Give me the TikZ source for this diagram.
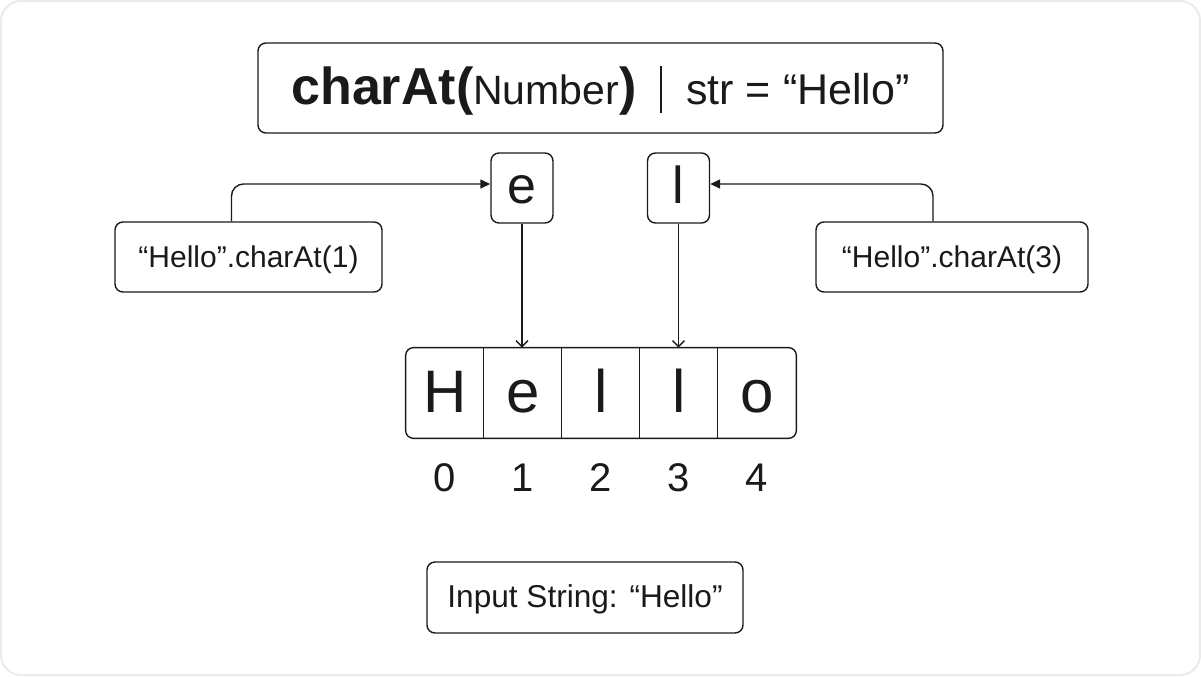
\documentclass[tikz,border=0pt]{standalone}
\usepackage{fontspec}
\setmainfont{Liberation Sans}
\usetikzlibrary{arrows.meta,positioning}

\definecolor{framegray}{HTML}{EBEBEB}
\definecolor{inkgray}{HTML}{1A1A1A}

\tikzset{
  box/.style={draw=inkgray, line width=0.7pt, rounded corners=4pt, inner sep=0pt, align=center},
  callbox/.style={box, minimum height=35pt, text height=10pt, text depth=0pt, font=\fontsize{15}{18}\selectfont},
  charbox/.style={box, minimum width=31pt, minimum height=35pt, text height=15pt, text depth=0pt, font=\fontsize{26}{30}\selectfont},
  cell/.style={minimum width=39pt, minimum height=45pt, inner sep=0pt, text height=19pt, text depth=0pt, font=\fontsize{30}{34}\selectfont},
  idx/.style={font=\fontsize{20}{24}\selectfont},
  hook/.style={-{Triangle[length=5pt,width=4.5pt]}, line width=0.7pt, rounded corners=6pt},
  drop/.style={-{Straight Barb[length=3pt,width=6pt]}, line width=0.7pt},
}

\begin{document}
\begin{tikzpicture}[x=0.5pt,y=-0.5pt,color=inkgray]
\useasboundingbox (0,0) rectangle (1201,676);
\draw[framegray, line width=1pt, rounded corners=10pt] (1,1) rectangle (1200,675);

% title
\node[box, minimum width=342.5pt, minimum height=45pt, text height=16.5pt, text depth=0pt] (title) at (600.5,88)
  {{\fontsize{26}{30}\selectfont\bfseries charAt(}{\fontsize{20.5}{25}\selectfont Number}{\fontsize{26}{30}\selectfont\bfseries )}\hspace{12pt}\rule[-4pt]{0.9pt}{23.5pt}\hspace{12pt}{\fontsize{21.5}{25}\selectfont str = “Hello”}};

% picked characters
\node[charbox] (pickE) at (522,188) {e};
\node[charbox] (pickL) at (678.5,188) {l};

\node[callbox, minimum width=133.5pt] (callA) at (248.5,257) {“Hello”.charAt(1)};
\node[callbox, minimum width=136pt] (callB) at (952,257) {“Hello”.charAt(3)};

% the string
\foreach \ch [count=\i from 0] in {H,e,l,l,o}
  \node[cell] (c\i) at ({445+78*\i},393) {\ch};
\draw[line width=0.7pt, rounded corners=4pt] (c0.north west) rectangle (c4.south east);
\foreach \i in {1,...,4}
  \draw[line width=0.7pt] (c\i.north west) -- (c\i.south west);

\foreach \i in {0,...,4}
  \node[idx] (n\i) at ({445+78*\i},478) {\i};

\node[callbox, minimum width=158pt, minimum height=35.5pt, font=\fontsize{15.8}{19}\selectfont] (input) at (585,597.5) {Input String: “Hello”};

\draw[hook] ([xshift=-8.5pt]callA.north) |- ([yshift=2pt]pickE.west);
\draw[hook] ([xshift=-9.5pt]callB.north) |- ([yshift=2pt]pickL.east);
\draw[drop] (pickE.south) -- (pickE.south |- c1.north);
\draw[drop] (pickL.south) -- (pickL.south |- c3.north);

\end{tikzpicture}
\end{document}
